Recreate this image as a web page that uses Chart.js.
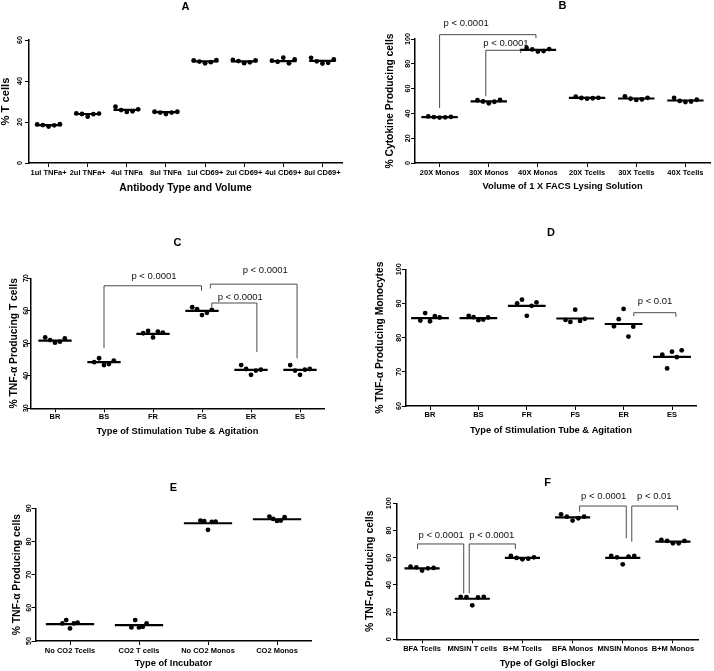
<!DOCTYPE html>
<html>
<head>
<meta charset="utf-8">
<script src="https://cdn.jsdelivr.net/npm/chart.js@4.4.1/dist/chart.umd.min.js"></script>
<style>
  body { margin: 0; background: #fff; }
  #wrap { position: relative; width: 714px; height: 671px; overflow: hidden; background: #fff; }
  canvas { position: absolute; }
</style>
</head>
<body>
<div id="wrap">
  <canvas id="chartA"></canvas>
  <canvas id="chartB"></canvas>
  <canvas id="chartC"></canvas>
  <canvas id="chartD"></canvas>
  <canvas id="chartE"></canvas>
  <canvas id="chartF"></canvas>
</div>
<script>
// ---- data ----
let catsA = ['1ul TNFa+', '2ul TNFa+', '4ul TNFa', '8ul TNFa', '1ul CD69+', '2ul CD69+', '4ul CD69+', '8ul CD69+'];
let pointsA = [
  [18.8, 18.5, 17.8, 18.4, 18.9],
  [24.2, 23.9, 22.6, 23.8, 24.1],
  [27.5, 25.8, 24.9, 25.2, 26.2],
  [25.0, 24.6, 23.9, 24.6, 25.0],
  [50.1, 49.5, 48.6, 49.2, 50.2],
  [50.3, 49.7, 48.7, 49.1, 50.1],
  [49.9, 49.4, 51.4, 48.6, 50.5],
  [51.3, 49.6, 48.5, 48.9, 50.5]
];
let meansA = [18.5, 23.9, 25.9, 24.8, 49.6, 49.6, 49.7, 49.8];

let catsB = ['20X Monos', '30X Monos', '40X Monos', '20X Tcells', '30X Tcells', '40X Tcells'];
let pointsB = [
  [37.6, 37.0, 36.6, 36.8, 37.2],
  [50.6, 49.6, 48.2, 49.4, 50.8],
  [92.7, 91.6, 89.9, 90.3, 91.9],
  [53.6, 52.4, 51.9, 52.2, 52.6],
  [53.8, 51.8, 50.9, 51.3, 52.6],
  [52.6, 50.1, 49.2, 49.6, 51.0]
];
let meansB = [37.0, 49.7, 91.2, 52.5, 52.0, 50.4];
// [from, to, top, left end, right end]
let bracketsB = [[0, 1.96, 103.5, 44.4, 100.8], [0.94, 1.65, 90.9, 53.8, 88.7]];
let pvalsB = ['p < 0.0001', 'p < 0.0001'];

let catsC = ['BR', 'BS', 'FR', 'FS', 'ER', 'ES'];
let pointsC = [
  [51.8, 51.0, 50.2, 50.5, 51.5],
  [44.2, 45.4, 43.3, 43.6, 44.7],
  [53.1, 53.8, 51.8, 53.6, 53.3],
  [61.1, 60.5, 58.7, 59.4, 60.3],
  [43.3, 42.1, 40.3, 41.6, 41.9],
  [43.3, 41.6, 40.3, 41.9, 42.1]
];
let meansC = [50.8, 44.2, 52.9, 60.0, 41.8, 41.8];
let bracketsC = [[1, 2.99, 67.7, 48.5, 66.2], [3.2, 4.12, 62.4, 61.2, 47.3], [3.17, 4.94, 68.2, 66.9, 45.4]];
let pvalsC = ['p < 0.0001', 'p < 0.0001', 'p < 0.0001'];

let catsD = ['BR', 'BS', 'FR', 'FS', 'ER', 'ES'];
let pointsD = [
  [85.0, 87.2, 84.8, 86.3, 85.9],
  [86.4, 86.0, 85.1, 85.3, 85.9],
  [90.0, 91.1, 86.4, 89.3, 90.3],
  [85.2, 84.6, 88.2, 84.9, 85.5],
  [83.3, 85.4, 88.4, 80.3, 83.2],
  [75.0, 71.0, 75.9, 74.3, 76.3]
];
let meansD = [85.7, 85.7, 89.3, 85.6, 84.0, 74.4];
let bracketsD = [[4.21, 5.08, 87.3, 86.3, 86.1]];
let pvalsD = ['p < 0.01'];

let catsE = ['No CO2 Tcells', 'CO2 T cells', 'No CO2 Monos', 'CO2 Monos'];
let pointsE = [
  [55.3, 56.3, 53.8, 55.3, 55.5],
  [54.1, 56.3, 54.1, 54.3, 55.3],
  [86.3, 86.1, 83.5, 85.9, 86.0],
  [87.5, 86.8, 86.2, 86.3, 87.3]
];
let meansE = [55.1, 54.8, 85.5, 86.7];

let catsF = ['BFA Tcells', 'MNSIN T cells', 'B+M Tcells', 'BFA Monos', 'MNSIN Monos', 'B+M Monos'];
let pointsF = [
  [53.4, 52.9, 50.5, 52.2, 52.5],
  [31.2, 31.0, 25.0, 30.8, 31.2],
  [61.3, 59.8, 58.8, 59.3, 60.3],
  [91.9, 90.2, 87.3, 89.0, 90.2],
  [61.3, 60.3, 55.1, 60.8, 61.3],
  [73.0, 72.3, 70.6, 70.6, 72.3]
];
let meansF = [52.2, 29.8, 59.9, 89.7, 59.8, 71.8];
let bracketsF = [[-0.09, 0.83, 70.1, 66.4, 33.8], [0.94, 1.86, 70.1, 33.8, 66.4], [3.14, 4.07, 98, 93.8, 74.3], [4.18, 5.09, 98, 71.8, 95]];
let pvalsF = ['p < 0.0001', 'p < 0.0001', 'p < 0.0001', 'p < 0.01'];

// ---- fonts & layout ----
const mctx = document.createElement('canvas').getContext('2d');
function hasFont(name) {
  mctx.font = '40px monospace';
  const a = mctx.measureText('abcdefghijklmnop').width;
  mctx.font = '40px "' + name + '", monospace';
  return mctx.measureText('abcdefghijklmnop').width !== a;
}
// the figure is squeezed sideways, so horizontal text looks narrow and tall
const NARROW = hasFont('Liberation Sans Narrow');
const BASE = '"Liberation Sans", Arial, Helvetica, sans-serif';
const HFAM = NARROW ? '"Liberation Sans Narrow", ' + BASE : BASE;
const HS = NARROW ? 1 / 0.82 : 1;

Chart.defaults.font.family = BASE;
Chart.defaults.color = '#000';

const JIT = [-1, -0.5, 0, 0.5, 1];
const YTICK = 7.2;

function widest(min, max, step) {
  mctx.font = 'bold ' + YTICK + 'px ' + BASE;
  let w = 0;
  for (let v = min; v <= max; v += step) w = Math.max(w, mctx.measureText(String(v)).width);
  return w;
}

function panel(id, g, cats, points, means, brackets, pvals) {
  const cv = document.getElementById(id);
  const [cl, ct, cw, ch] = g.canvas;
  const [l, t, r, b] = g.area;
  cv.width = cw; cv.height = ch;
  cv.style.left = cl + 'px'; cv.style.top = ct + 'px';

  const ytSize = g.ytSize || 10.3;
  const xtSize = (g.xtSize || 9.3) * HS;
  const xkSize = 7.5 * HS;
  const xh = g.xTitleGap + xtSize * 0.6;

  const dots = [];
  points.forEach((grp, i) => grp.forEach((v, j) => dots.push({x: i + JIT[j] * g.jit, y: v})));
  const lines = [];
  means.forEach((m, i) => lines.push({x: i - g.half, y: m}, {x: i + g.half, y: m}, {x: i + g.half, y: null}));

  const marks = {
    id: 'marks' + id,
    afterDraw(chart) {
      const {ctx, chartArea, scales: {x, y}} = chart;
      ctx.save();
      ctx.fillStyle = '#000';
      ctx.textAlign = 'center';
      ctx.textBaseline = 'middle';
      ctx.font = 'bold ' + (11 * HS) + 'px ' + HFAM;
      ctx.fillText(g.title, (chartArea.left + chartArea.right) / 2, g.titleY - ct);
      ctx.strokeStyle = '#4a4a4a';
      ctx.lineWidth = 1;
      ctx.font = (9.5 * HS) + 'px ' + HFAM;
      (brackets || []).forEach((br, k) => {
        const [a, c, top, ya, yc] = br;
        ctx.beginPath();
        ctx.moveTo(x.getPixelForValue(a), y.getPixelForValue(ya));
        ctx.lineTo(x.getPixelForValue(a), y.getPixelForValue(top));
        ctx.lineTo(x.getPixelForValue(c), y.getPixelForValue(top));
        ctx.lineTo(x.getPixelForValue(c), y.getPixelForValue(yc));
        ctx.stroke();
        const [lx, ly] = g.labels[k];
        ctx.fillStyle = '#111';
        ctx.fillText(pvals[k], x.getPixelForValue(lx), y.getPixelForValue(ly));
      });
      ctx.restore();
    }
  };

  return new Chart(cv.getContext('2d'), {
    type: 'scatter',
    data: {
      datasets: [
        { type: 'line', data: lines, borderColor: '#000', borderWidth: 2.2, pointRadius: 0, fill: false, spanGaps: false },
        { data: dots, backgroundColor: '#000', borderColor: '#000', pointRadius: 2.4, pointBorderWidth: 0 }
      ]
    },
    options: {
      responsive: false,
      animation: false,
      layout: { padding: { left: 0, top: t - ct, right: cl + cw - r, bottom: ct + ch - b - xh } },
      plugins: { legend: { display: false }, tooltip: { enabled: false } },
      scales: {
        x: {
          type: 'linear',
          min: -0.5,
          max: cats.length - 0.5,
          afterBuildTicks: s => { s.ticks = cats.map((c, i) => ({ value: i })); },
          afterFit: s => { s.height = xh; },
          ticks: {
            callback: v => cats[v], autoSkip: false, maxRotation: 0,
            font: { size: xkSize, family: HFAM, weight: 'bold' }, padding: g.xTickGap - 4 - xkSize * 0.6
          },
          grid: { drawOnChartArea: false, color: '#000', tickLength: 4 },
          border: { color: '#000', width: 1.5 },
          title: { display: true, text: g.xTitle, font: { size: xtSize, family: HFAM, weight: 'bold' }, padding: { top: 0, bottom: 0 } }
        },
        y: {
          min: g.y[0],
          max: g.y[1],
          afterFit: s => { s.width = l - cl; },
          ticks: {
            stepSize: g.y[2], minRotation: 90, maxRotation: 90, crossAlign: 'center',
            font: { size: YTICK, weight: 'bold' },
            padding: g.yTickGap - 4 - widest(g.y[0], g.y[1], g.y[2]) / 2
          },
          grid: { drawOnChartArea: false, color: '#000', tickLength: 4 },
          border: { color: '#000', width: 1.5 },
          title: {
            display: true, text: g.yTitle, font: { size: ytSize, weight: 'bold' },
            padding: { top: g.yTitleX - ytSize * 0.6, bottom: 0 }
          }
        }
      }
    },
    plugins: [marks]
  });
}

panel('chartA', {
  title: 'A', titleY: 7, canvas: [0, 0, 357, 200], area: [29, 40, 342, 163], y: [0, 60, 20],
  yTitle: '% T cells', xTitle: 'Antibody Type and Volume', ytSize: 11.2, xtSize: 10.4,
  yTickGap: 8.6, yTitleX: 6, xTickGap: 10, xTitleGap: 25, jit: 0.29, half: 0.34
}, catsA, pointsA, meansA);

panel('chartB', {
  title: 'B', titleY: 6, canvas: [357, 0, 357, 200], area: [415, 39, 713, 163], y: [0, 100, 20],
  yTitle: '% Cytokine Producing cells', xTitle: 'Volume of 1 X FACS Lysing Solution',
  yTickGap: 7.2, yTitleX: 33, xTickGap: 9.7, xTitleGap: 23.7, jit: 0.23, half: 0.37,
  labels: [[0.54, 112.4], [1.35, 96.8]]
}, catsB, pointsB, meansB, bracketsB, pvalsB);

panel('chartC', {
  title: 'C', titleY: 243, canvas: [0, 215, 357, 230], area: [30.5, 278.3, 324.5, 408.3], y: [30, 70, 10],
  yTitle: '% TNF-\u03b1 Producing T cells', xTitle: 'Type of Stimulation Tube & Agitation',
  yTickGap: 4.5, yTitleX: 14.3, xTickGap: 8.4, xTitleGap: 23.4, jit: 0.2, half: 0.34,
  labels: [[2.02, 70.5], [3.78, 64.2], [4.29, 72.3]]
}, catsC, pointsC, meansC, bracketsC, pvalsC);

panel('chartD', {
  title: 'D', titleY: 233, canvas: [357, 215, 357, 230], area: [405.8, 269.3, 696.2, 406], y: [60, 100, 10],
  yTitle: '% TNF-\u03b1 Producing Monocytes', xTitle: 'Type of Stimulation Tube & Agitation',
  yTickGap: 6.3, yTitleX: 23, xTickGap: 9, xTitleGap: 24, jit: 0.2, half: 0.39,
  labels: [[4.65, 90.5]]
}, catsD, pointsD, meansD, bracketsD, pvalsD);

panel('chartE', {
  title: 'E', titleY: 488, canvas: [0, 455, 357, 216], area: [35.5, 508.3, 311.5, 641], y: [50, 90, 10],
  yTitle: '% TNF-\u03b1 Producing cells', xTitle: 'Type of Incubator',
  yTickGap: 6.2, yTitleX: 16.7, xTickGap: 10, xTitleGap: 22.3, jit: 0.11, half: 0.35
}, catsE, pointsE, meansE);

panel('chartF', {
  title: 'F', titleY: 483, canvas: [357, 455, 357, 216], area: [397, 503.3, 698, 639.3], y: [0, 100, 20],
  yTitle: '% TNF-\u03b1 Producing cells', xTitle: 'Type of Golgi Blocker',
  yTickGap: 8.3, yTitleX: 13.3, xTickGap: 10, xTitleGap: 24, jit: 0.23, half: 0.35,
  labels: [[0.38, 76.7], [1.39, 76.7], [3.62, 104.9], [4.63, 104.9]]
}, catsF, pointsF, meansF, bracketsF, pvalsF);
</script>
</body>
</html>
